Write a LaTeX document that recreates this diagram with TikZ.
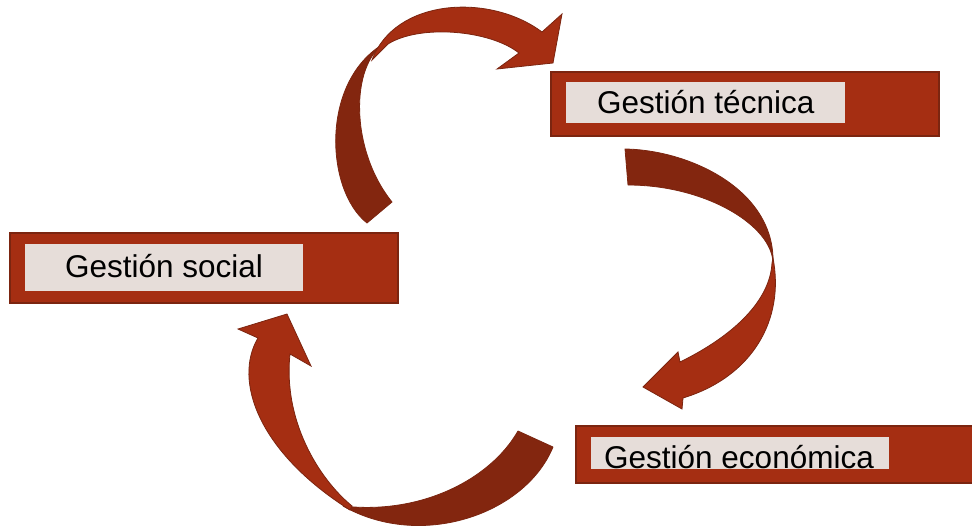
\documentclass[tikz,border=0pt]{standalone}
\usepackage{fontspec}
\setmainfont{Liberation Sans}
\definecolor{boxred}{HTML}{A52E12}
\definecolor{boxedge}{HTML}{7B2510}
\definecolor{arrdark}{HTML}{83260F}
\definecolor{arrlight}{HTML}{A52E12}
\definecolor{innerfill}{HTML}{E6DDD9}
\tikzset{
  outerbox/.style={draw=boxedge, line width=1.5pt, fill=boxred},
  innerbox/.style={fill=innerfill},
  darkband/.style={fill=arrdark, draw=boxedge, line width=0.8pt, line join=round},
  lightband/.style={fill=arrlight, draw=boxedge, line width=0.8pt, line join=miter},
  lbl/.style={anchor=base west, inner sep=0pt, font=\fontsize{31.5}{36}\selectfont, text=black}
}
\begin{document}
\begin{tikzpicture}[x=1pt,y=-1pt]
\useasboundingbox (0,0) rectangle (972,528);
% ---- arrow 1 (social -> tecnica)
\draw[darkband] (367,223) .. controls (325,190) and (320,80) .. (385,43)
  .. controls (350,65) and (350,150) .. (392,202) -- cycle;
\draw[lightband] (372,60) .. controls (395,-2) and (490,-7) .. (542,32)
  -- (562,14) -- (553,63) -- (497,69) -- (519,53)
  .. controls (490,30) and (420,24) .. (388,44) -- cycle;
% ---- arrow 2 (tecnica -> economica)
\draw[darkband] (625,149) .. controls (690,150) and (775,190) .. (773,263)
  .. controls (772,225) and (705,185) .. (628,185) -- cycle;
\draw[lightband] (773,258) .. controls (785,320) and (752,377) .. (683,398)
  -- (682,409) -- (643,387) -- (678,352) -- (680,362)
  .. controls (735,335) and (770,300) .. (772,263) -- cycle;
% ---- arrow 3 (economica -> social)
\draw[darkband] (518,431) -- (553,447) .. controls (525,515) and (420,550) .. (343,506)
  .. controls (420,515) and (490,480) .. (518,431) -- cycle;
\draw[lightband] (350,510) .. controls (258,452) and (233,380) .. (258,338)
  -- (238,329) -- (287,314) -- (311,366) -- (290,354)
  .. controls (283,420) and (318,478) .. (352,506) -- cycle;
% ---- boxes
\node[outerbox, anchor=north west, minimum width=388pt, minimum height=64pt, inner sep=0pt] (tecnica) at (550,71) {};
\node[innerbox, anchor=north west, minimum width=279pt, minimum height=41pt, inner sep=0pt] (tecnicain) at (566,82) {};
\node[lbl] (tecnicatxt) at (597,113) {Gestión técnica};

\node[outerbox, anchor=north west, minimum width=388pt, minimum height=70pt, inner sep=0pt] (social) at (9,232) {};
\node[innerbox, anchor=north west, minimum width=278pt, minimum height=47pt, inner sep=0pt] (socialin) at (25,244) {};
\node[lbl] (socialtxt) at (65,277) {Gestión social};

\node[outerbox, anchor=north west, minimum width=397pt, minimum height=57pt, inner sep=0pt] (economica) at (575,425) {};
\node[innerbox, anchor=north west, minimum width=298pt, minimum height=32pt, inner sep=0pt] (economicain) at (591,437) {};
\node[lbl] (economicatxt) at (604,468) {Gestión económica};
\end{tikzpicture}
\end{document}
